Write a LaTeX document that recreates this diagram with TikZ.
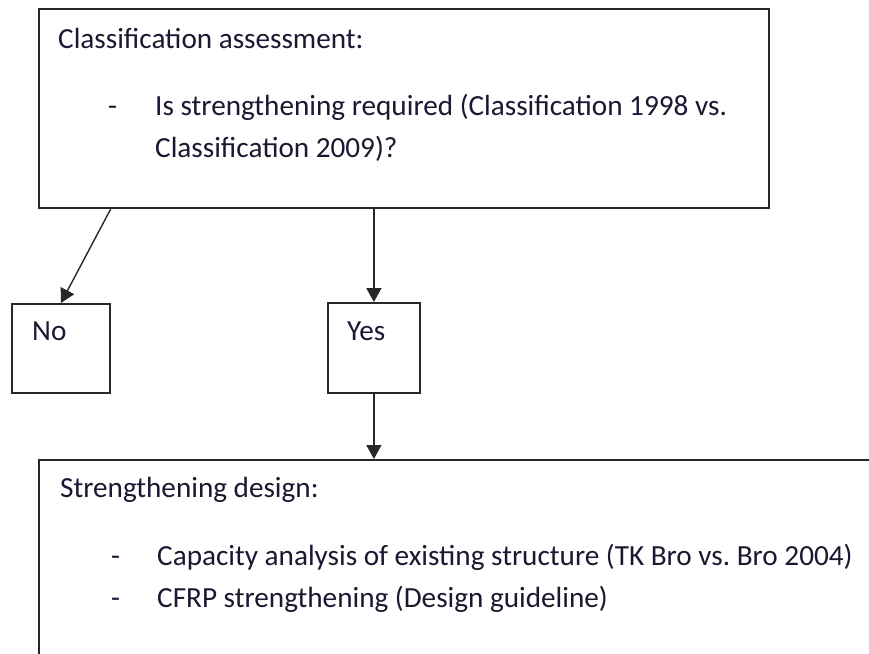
\documentclass[tikz,border=0pt]{standalone}
\usepackage{fontspec}
\setmainfont{Carlito}
\usepackage{tikz}
\usetikzlibrary{arrows.meta,positioning}
\definecolor{boxgray}{RGB}{40,40,40}
\definecolor{textblue}{RGB}{25,25,50}
\tikzset{
  flowbox/.style={
    draw=boxgray,
    line width=1.8pt,
    rectangle,
    inner sep=0pt,
    anchor=north west
  },
  boxtext/.style={
    anchor=base west,
    inner sep=0pt,
    text=textblue,
    font=\fontsize{29.2}{34}\selectfont
  },
  flowarrow/.style={-{Triangle[length=14pt,width=15pt]},line width=1.4pt,draw=boxgray},
}
\frenchspacing
\begin{document}
\begin{tikzpicture}[x=1pt,y=-1pt]
  \clip (0,0) rectangle (869,653);
  \fill[white] (0,0) rectangle (869,653);

  % Boxes
  \node[flowbox,minimum width=730pt,minimum height=199pt] (assess) at (38,8) {};
  \node[flowbox,minimum width=98pt,minimum height=89pt] (no) at (11,303) {};
  \node[flowbox,minimum width=92pt,minimum height=90pt] (yes) at (327,302) {};
  \node[flowbox,minimum width=860pt,minimum height=220pt] (design) at (38,459) {};

  % Texts
  \node[boxtext] (atitle) at (58,48) {Classification assessment:};
  \node[boxtext] (adash) at (108,115) {-};
  \node[boxtext] (aline1) at (155,115) {Is strengthening required (Classification 1998 vs.};
  \node[boxtext] (aline2) at (155,157) {Classification 2009)?};
  \node[boxtext] (notext) at (32,340) {No};
  \node[boxtext] (yestext) at (347,340) {Yes};
  \node[boxtext] (dtitle) at (60,497) {Strengthening design:};
  \node[boxtext] (ddash1) at (111,565) {-};
  \node[boxtext] (dline1) at (157,565) {Capacity analysis of existing structure (TK Bro vs. Bro 2004)};
  \node[boxtext] (ddash2) at (111,607) {-};
  \node[boxtext] (dline2) at (157,607) {CFRP strengthening (Design guideline)};

  % Connectors
  \draw[flowarrow] (assess.south -| no.east) -- (no.north);
  \draw[flowarrow] (assess.south -| yes.north) -- (yes.north);
  \draw[flowarrow] (yes.south) -- (yes.south |- design.north);
\end{tikzpicture}
\end{document}
